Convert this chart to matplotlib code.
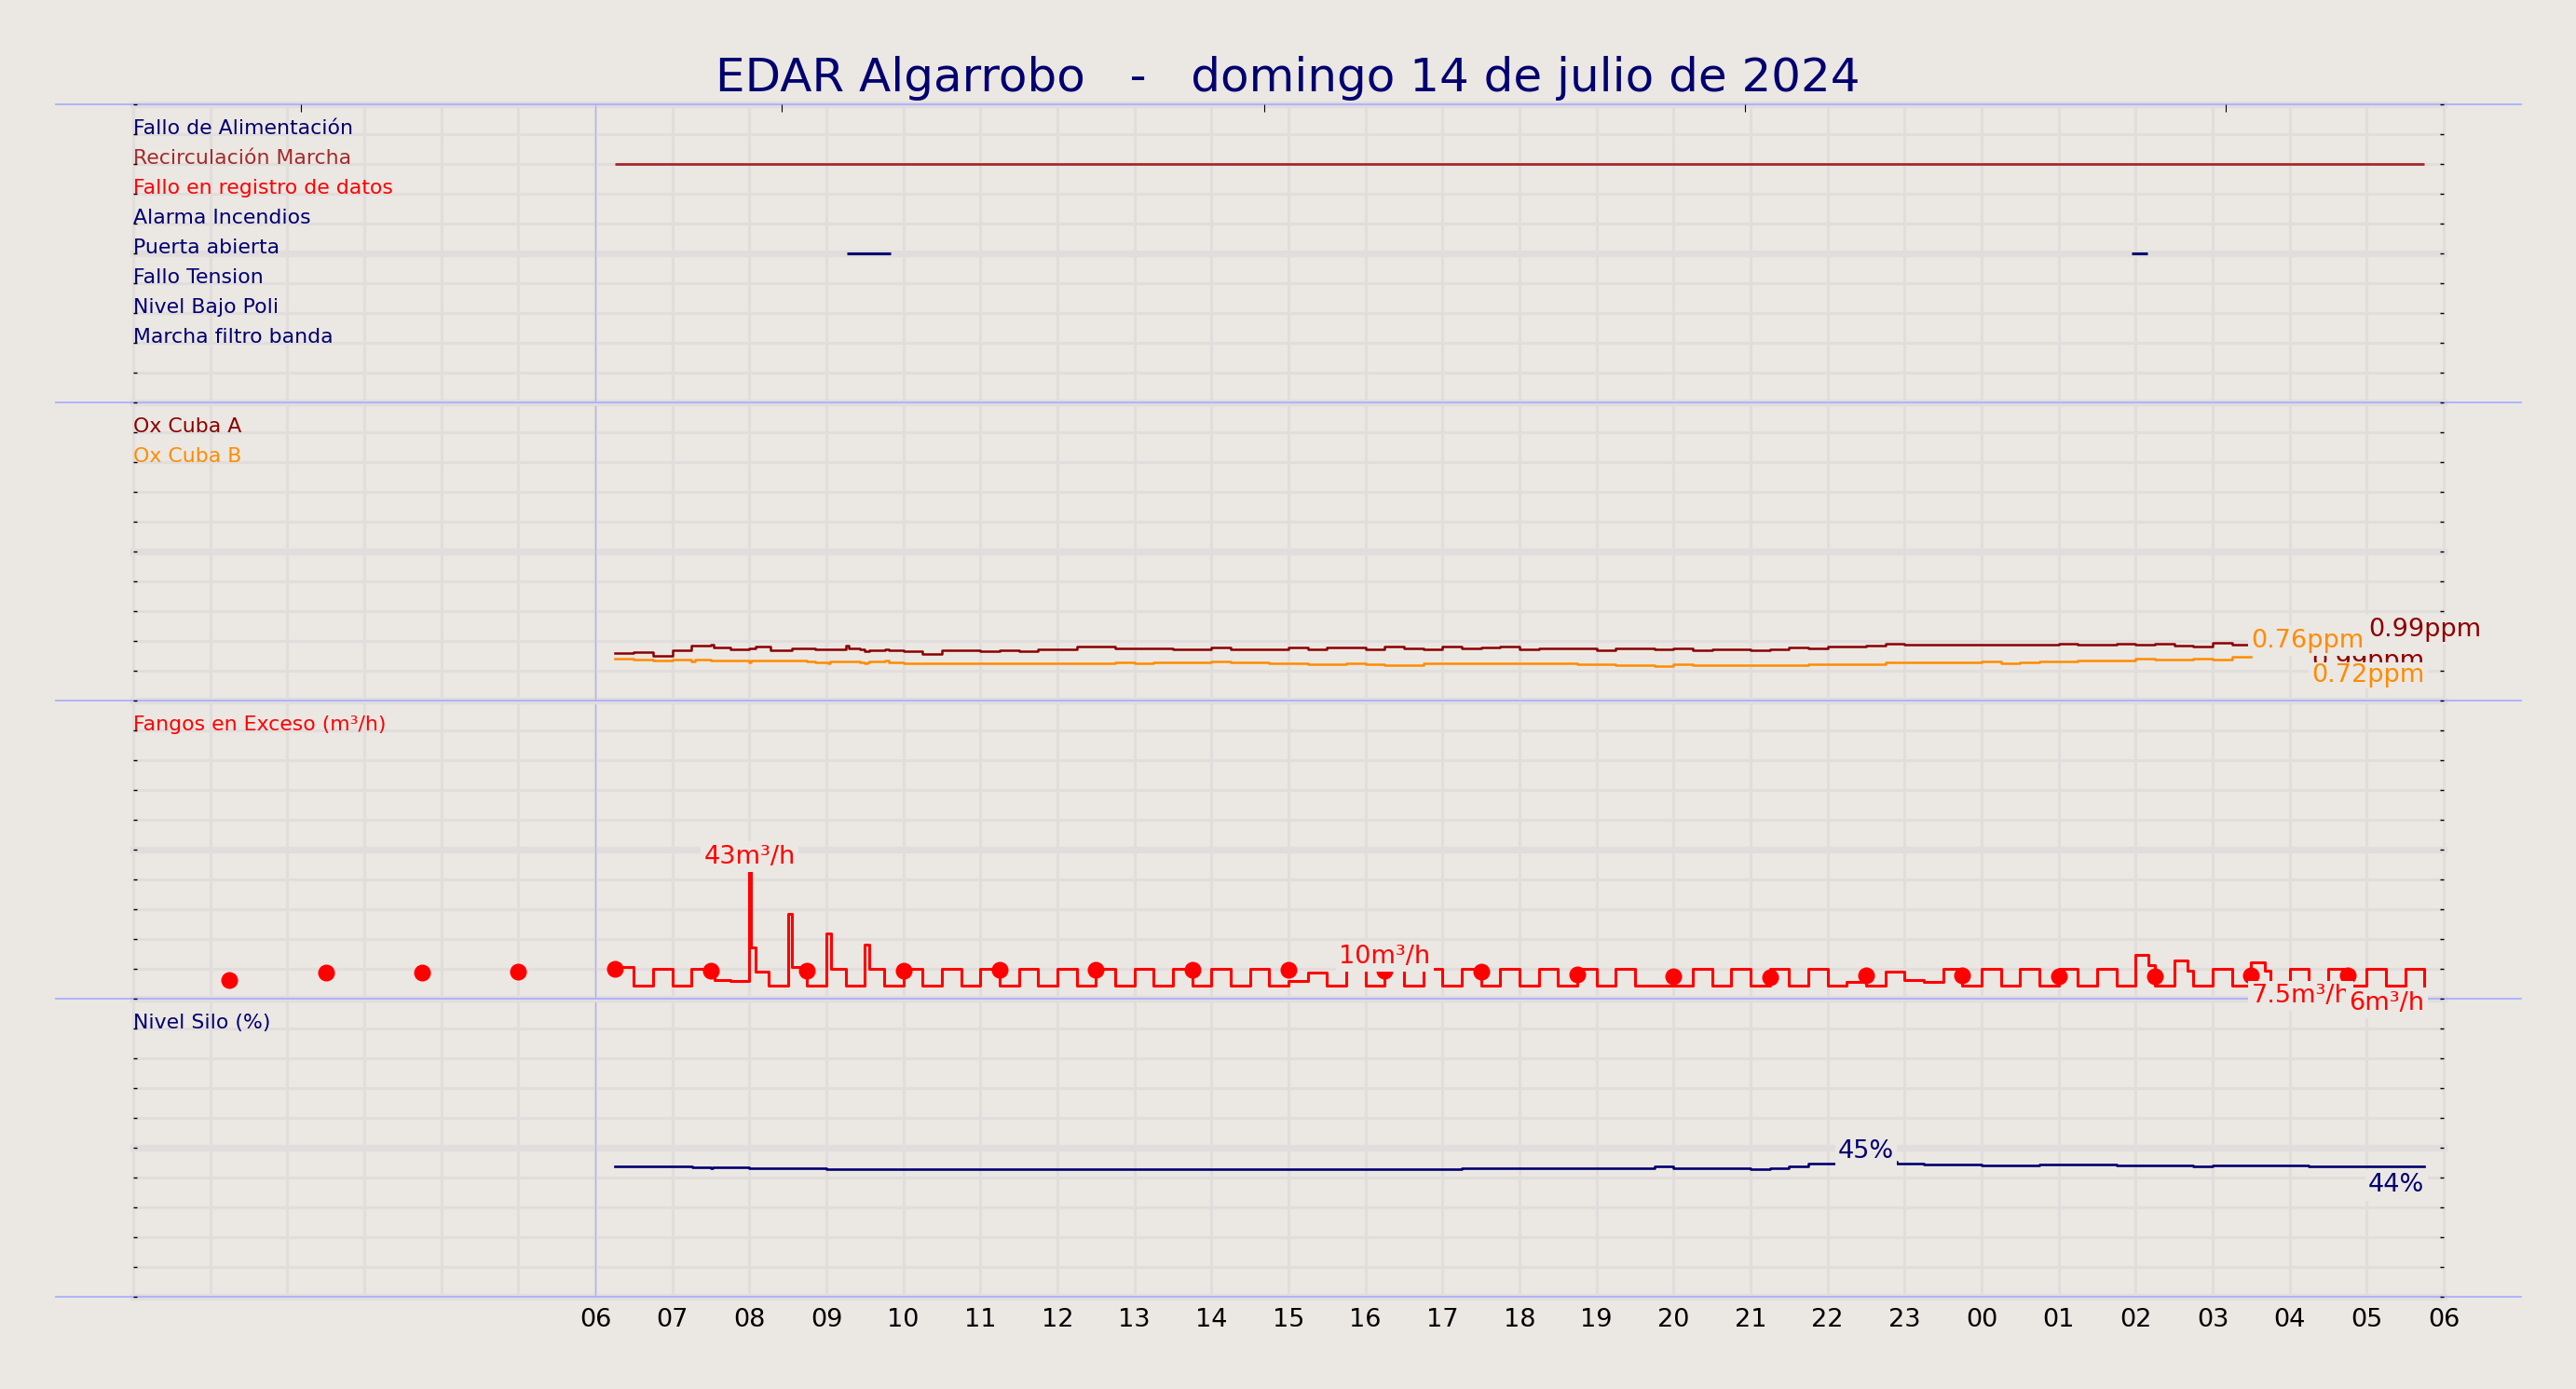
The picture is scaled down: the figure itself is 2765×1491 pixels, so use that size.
import numpy as np
import matplotlib
matplotlib.use("Agg")
import matplotlib.pyplot as plt

W, H = 2765, 1491
BG = "#ebe7e2"
GRID = "#e1dddc"
BLUE = "#aab0ff"
NAVY = "#000070"

TITLE = "EDAR Algarrobo   -   domingo 14 de julio de 2024"

# eje x en horas desde las 00:00 del dia anterior
x_hours = list(range(6, 31))
x_labels = ["06", "07", "08", "09", "10", "11", "12", "13", "14", "15", "16", "17", "18",
            "19", "20", "21", "22", "23", "00", "01", "02", "03", "04", "05", "06"]
top_ticks = [2.18, 8.42, 14.68, 20.93, 27.17]

# panel 1: estados
estados = ["Fallo de Alimentación", "Recirculación Marcha", "Fallo en registro de datos",
           "Alarma Incendios", "Puerta abierta", "Fallo Tension", "Nivel Bajo Poli",
           "Marcha filtro banda"]
estados_color = [NAVY, "brown", "red", NAVY, NAVY, NAVY, NAVY, NAVY]
recirc_on = [(6.25, 29.75)]
puerta_on = [(9.27, 9.83), (25.95, 26.15)]

# panel 2: oxigeno (ppm)
ox_a_t = [6.25, 6.5, 6.75, 7.0, 7.25, 7.5, 7.54, 7.75, 8.0, 8.08, 8.27, 8.55, 8.85, 9.02,
          9.25, 9.29, 9.43, 9.5, 9.56, 9.76, 9.81, 10.0, 10.25, 10.5, 11.0, 11.25, 11.5,
          11.75, 12.0, 12.25, 12.75, 13.5, 14.0, 14.25, 15.0, 15.25, 15.5, 16.0, 16.25,
          16.5, 16.75, 17.0, 17.25, 17.5, 17.75, 18.0, 18.25, 19.0, 19.25, 19.75, 20.0,
          20.25, 20.5, 21.0, 21.25, 21.5, 21.75, 22.0, 22.5, 22.75, 23.0, 23.25, 24.0,
          25.0, 25.25, 25.75, 26.0, 26.25, 26.5, 26.75, 27.0, 27.25, 27.5]
ox_a = [0.837, 0.859, 0.793, 0.886, 0.963, 0.99, 0.941, 0.902, 0.924, 0.946, 0.886, 0.924,
        0.902, 0.908, 0.963, 0.924, 0.902, 0.870, 0.891, 0.908, 0.886, 0.870, 0.826, 0.891,
        0.875, 0.891, 0.870, 0.897, 0.908, 0.946, 0.924, 0.908, 0.930, 0.908, 0.930, 0.908,
        0.930, 0.908, 0.946, 0.924, 0.908, 0.946, 0.924, 0.935, 0.952, 0.908, 0.924, 0.891,
        0.924, 0.908, 0.924, 0.891, 0.908, 0.891, 0.908, 0.930, 0.924, 0.952, 0.963, 1.006,
        0.984, 0.990, 0.984, 0.995, 0.979, 1.006, 0.990, 1.000, 0.973, 0.946, 1.017, 0.990,
        0.990]
ox_b_t = [6.25, 6.5, 6.75, 7.0, 7.25, 7.29, 7.5, 8.0, 8.02, 8.75, 8.85, 9.02, 9.05, 9.43,
          9.5, 9.53, 9.56, 9.76, 9.81, 10.0, 10.25, 10.5, 10.75, 11.0, 11.25, 12.75, 13.0,
          13.25, 14.0, 14.25, 14.5, 14.75, 15.25, 15.75, 16.0, 16.25, 16.75, 17.0, 17.25,
          18.5, 18.75, 19.0, 19.25, 19.75, 20.0, 20.25, 20.5, 21.75, 22.0, 22.75, 24.0,
          24.25, 24.5, 24.75, 25.25, 26.0, 26.25, 26.5, 26.75, 27.0, 27.25, 27.5]
ox_b = [0.738, 0.727, 0.705, 0.727, 0.689, 0.727, 0.711, 0.673, 0.711, 0.689, 0.678, 0.651,
        0.695, 0.678, 0.662, 0.673, 0.684, 0.700, 0.678, 0.662, 0.651, 0.662, 0.651, 0.662,
        0.651, 0.678, 0.662, 0.678, 0.695, 0.667, 0.678, 0.662, 0.645, 0.662, 0.645, 0.629,
        0.651, 0.662, 0.651, 0.662, 0.634, 0.645, 0.629, 0.612, 0.634, 0.623, 0.629, 0.645,
        0.634, 0.678, 0.689, 0.662, 0.678, 0.695, 0.711, 0.733, 0.716, 0.727, 0.744, 0.727,
        0.766, 0.766]
ox_b_ref = 0.72

# panel 3: fangos en exceso (m3/h)
fangos_t = [6.25, 6.5, 6.75, 7.0, 7.25, 7.55, 7.75, 8.0, 8.02, 8.08, 8.25, 8.5, 8.55, 8.75,
            9.0, 9.06, 9.25, 9.5, 9.56, 9.75, 10.0, 10.25, 10.5, 10.75, 11.0, 11.25, 11.5,
            11.75, 12.0, 12.25, 12.5, 12.75, 13.0, 13.25, 13.5, 13.75, 14.0, 14.25, 14.5,
            14.75, 15.0, 15.25, 15.5, 15.75, 16.0, 16.25, 16.5, 16.75, 17.0, 17.25, 17.5,
            17.75, 18.0, 18.25, 18.5, 18.75, 19.0, 19.25, 19.5, 20.25, 20.5, 20.75, 21.0,
            21.25, 21.5, 21.75, 22.0, 22.25, 22.5, 22.75, 23.0, 23.25, 23.5, 23.75, 24.0,
            24.25, 24.5, 24.75, 25.0, 25.25, 25.5, 25.75, 26.0, 26.17, 26.25, 26.5, 26.67,
            26.75, 27.0, 27.25, 27.5, 27.68, 27.75, 28.0, 28.25, 28.5, 28.75, 29.0, 29.25,
            29.5, 29.75]
fangos = [10.7, 4.5, 10.0, 4.5, 10.0, 6.4, 5.9, 42.5, 17.1, 9.0, 4.5, 28.4, 10.5, 4.5,
          21.8, 10.0, 4.5, 18.1, 10.0, 4.5, 10.0, 4.5, 10.0, 4.5, 10.0, 4.5, 10.0,
          4.5, 10.0, 4.5, 10.0, 4.5, 10.0, 4.5, 10.0, 4.5, 10.0, 4.5, 10.0,
          4.5, 5.8, 8.6, 4.5, 10.0, 4.5, 10.0, 4.5, 10.0, 4.5, 10.0, 4.5,
          10.0, 4.5, 10.0, 4.5, 10.0, 4.5, 10.0, 4.5, 10.0, 4.5, 10.0, 4.5,
          10.0, 4.5, 10.0, 4.5, 5.5, 4.5, 9.2, 6.4, 5.5, 10.0, 4.5, 10.0,
          4.5, 10.0, 4.5, 10.0, 4.5, 10.0, 4.5, 14.7, 11.3, 4.5, 12.9, 9.5,
          4.5, 10.0, 4.5, 12.3, 9.5, 4.5, 10.0, 4.5, 10.0, 4.5, 10.0, 4.5,
          10.0, 4.5]
puntos_t = [1.25, 2.5, 3.75, 5.0, 6.25, 7.5, 8.75, 10.0, 11.25, 12.5, 13.75, 15.0, 16.25,
            17.5, 18.75, 20.0, 21.25, 22.5, 23.75, 25.0, 26.25, 27.5, 28.75]
puntos = [6.1, 8.8, 8.8, 9.2, 10.0, 9.5, 9.5, 9.3, 9.7, 9.7, 9.7, 9.6, 9.4,
          9.0, 8.1, 7.4, 7.2, 7.7, 7.7, 7.4, 7.4, 7.8, 7.7]

# panel 4: nivel silo (%)
silo_t = [6.25, 7.26, 7.5, 7.53, 8.0, 9.0, 17.25, 19.75, 20.0, 21.0, 21.25, 21.5, 21.75,
          22.25, 22.9, 23.25, 24.0, 24.75, 25.75, 26.25, 26.75, 27.0, 28.25, 28.75, 29.75]
silo = [43.6, 43.3, 43.0, 43.4, 43.1, 42.7, 43.1, 43.6, 43.1, 42.7, 43.0, 43.75, 44.7,
        45.2, 44.6, 44.3, 44.1, 44.3, 44.1, 44.0, 43.75, 44.1, 43.75, 43.65, 43.65]


def style_panel(ax, ymax, first=False):
    ax.set_facecolor(BG)
    ax.set_xlim(0, 30)
    ax.set_ylim(0, ymax)
    levels = np.linspace(0, ymax, 11)
    for k, y in enumerate(levels):
        ax.axhline(y, color=GRID, lw=5.2 if k % 5 == 0 else 2.2, zorder=0.5, clip_on=False)
    for h in range(31):
        ax.axvline(h, color=GRID, lw=2.2, zorder=0.5, clip_on=False)
    ax.set_yticks(levels)
    ax.tick_params(axis="y", direction="in", length=3.2, width=1.0, color="black",
                   left=True, right=True, labelleft=False)
    ax.set_xticks([])
    for s in ax.spines.values():
        s.set_visible(False)
    ax.axvline(6, color=BLUE, lw=0.9, zorder=1)
    ax.axhline(0, xmin=-0.0335, xmax=1.0335, color=BLUE, lw=1.3, zorder=1, clip_on=False)
    if first:
        ax.axhline(ymax, xmin=-0.0335, xmax=1.0335, color=BLUE, lw=1.3, zorder=1, clip_on=False)


def tag(ax, text, x, y, color, ha, va, dy, z=6, pad=0.12):
    ax.annotate(text, (x, y), xytext=(0, dy), textcoords="offset points", ha=ha, va=va,
                color=color, fontsize=19.5, zorder=z,
                bbox=dict(boxstyle="square,pad=%g" % pad, fc=BG, ec="none"))


def label(ax, text, frac, color):
    ax.text(0.0, frac, text, transform=ax.transAxes, ha="left", va="baseline",
            fontsize=15.8, color=color, zorder=4)


fig = plt.figure(figsize=(W / 100, H / 100), dpi=100, facecolor=BG)
left, width = 143 / W, 2480 / W
axes = []
for i, top in enumerate([112, 432, 752, 1072]):
    ax = fig.add_axes([left, 1 - (top + 320) / H, width, 320 / H])
    ax.set_zorder(10 - i)
    axes.append(ax)
ax1, ax2, ax3, ax4 = axes

fig.text(0.5, 1 - 98 / H, TITLE, ha="center", va="baseline", fontsize=36, color=NAVY)

# panel 1
style_panel(ax1, 10, first=True)
for i, (txt, col) in enumerate(zip(estados, estados_color)):
    label(ax1, txt, 0.9 - 0.1 * i, col)
for s, e in recirc_on:
    ax1.hlines(8, s, e, color="brown", lw=2.0, zorder=3)
for s, e in puerta_on:
    ax1.hlines(5, s, e, color=NAVY, lw=2.2, zorder=3)
ax1.set_xticks(top_ticks)
ax1.tick_params(axis="x", top=True, bottom=False, direction="in", length=6, width=0.8,
                color="black", labeltop=False, labelbottom=False)

# panel 2
style_panel(ax2, 5.25)
label(ax2, "Ox Cuba A", 0.9, "darkred")
label(ax2, "Ox Cuba B", 0.8, "darkorange")
ax2.plot(ox_a_t, ox_a, drawstyle="steps-post", color="darkred", lw=1.8, zorder=3)
ax2.plot(ox_b_t, ox_b, drawstyle="steps-post", color="darkorange", lw=1.8, zorder=3)
tag(ax2, "0.99ppm", 29.75, ox_a[-1], "darkred", "right", "top", -3.8, z=6)
tag(ax2, "0.72ppm", 29.75, ox_b_ref, "darkorange", "right", "top", -2.8, z=7, pad=0.03)
tag(ax2, "0.76ppm", ox_b_t[-1], ox_b[-1], "darkorange", "left", "bottom", 3.4, z=8)
tag(ax2, "0.99ppm", 29.75, ox_a[-1], "darkred", "center", "bottom", 2.0, z=9)

# panel 3
style_panel(ax3, 100)
label(ax3, "Fangos en Exceso (m³/h)", 0.9, "red")
ax3.plot(fangos_t, fangos, drawstyle="steps-post", color="red", lw=2.2, zorder=3)
ax3.plot(puntos_t, puntos, "o", color="red", ms=13, mew=0, zorder=3)
tag(ax3, "43m³/h", 8.0, max(fangos), "red", "center", "bottom", 2.4)
tag(ax3, "10m³/h", 16.25, puntos[12], "red", "center", "bottom", 1.7)
tag(ax3, "7.5m³/h", 27.5, puntos[21], "red", "left", "top", -6.5)
tag(ax3, "6m³/h", fangos_t[-1], fangos[-1], "red", "right", "top", -4.6, z=7)

# panel 4
style_panel(ax4, 100)
label(ax4, "Nivel Silo (%)", 0.9, NAVY)
ax4.plot(silo_t, silo, drawstyle="steps-post", color=NAVY, lw=1.9, zorder=3)
tag(ax4, "45%", 22.5, max(silo), NAVY, "center", "bottom", -0.9)
tag(ax4, "44%", silo_t[-1], silo[-1], NAVY, "right", "top", -5)
ax4.set_xticks(x_hours, x_labels)
ax4.tick_params(axis="x", length=0, pad=9, labelsize=19.5, labelcolor="black")

fig.savefig("out.png", dpi=100, facecolor=BG)
